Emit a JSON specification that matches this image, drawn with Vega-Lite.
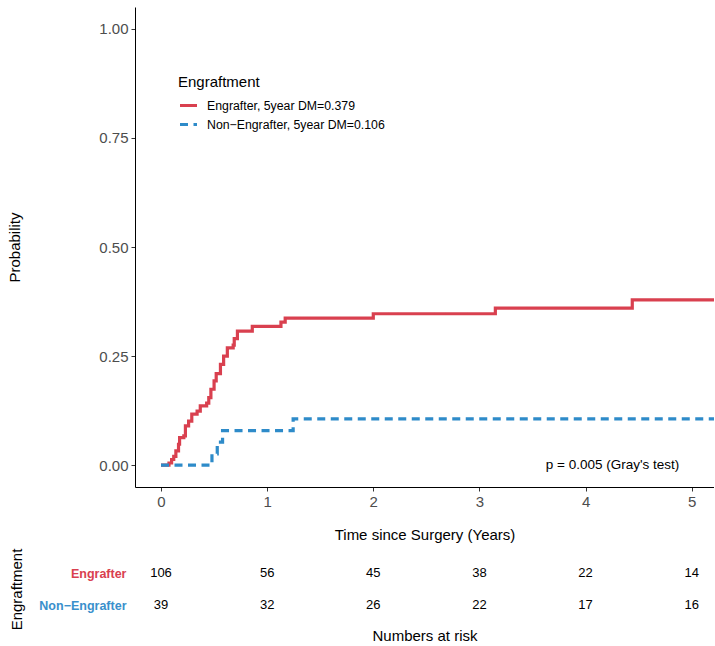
{
  "$schema": "https://vega.github.io/schema/vega-lite/v6.json",
  "padding": {"left": 7, "top": 7, "right": 0, "bottom": 0},
  "background": "white",
  "spacing": 6,
  "config": {
    "font": "Liberation Sans",
    "view": {"stroke": null},
    "axis": {"grid": false, "labelFont": "Liberation Sans", "titleFont": "Liberation Sans", "titleFontWeight": "normal", "titleColor": "black"},
    "legend": {"labelFont": "Liberation Sans", "titleFont": "Liberation Sans"}
  },
  "datasets": {
    "curves": [
      {"group": "Engrafter, 5year DM=0.379", "time": 0, "prob": 0},
      {"group": "Engrafter, 5year DM=0.379", "time": 0.075, "prob": 0.005},
      {"group": "Engrafter, 5year DM=0.379", "time": 0.1, "prob": 0.013},
      {"group": "Engrafter, 5year DM=0.379", "time": 0.12, "prob": 0.02},
      {"group": "Engrafter, 5year DM=0.379", "time": 0.14, "prob": 0.033},
      {"group": "Engrafter, 5year DM=0.379", "time": 0.165, "prob": 0.048},
      {"group": "Engrafter, 5year DM=0.379", "time": 0.175, "prob": 0.063},
      {"group": "Engrafter, 5year DM=0.379", "time": 0.215, "prob": 0.067},
      {"group": "Engrafter, 5year DM=0.379", "time": 0.23, "prob": 0.09},
      {"group": "Engrafter, 5year DM=0.379", "time": 0.26, "prob": 0.101},
      {"group": "Engrafter, 5year DM=0.379", "time": 0.29, "prob": 0.117},
      {"group": "Engrafter, 5year DM=0.379", "time": 0.34, "prob": 0.124},
      {"group": "Engrafter, 5year DM=0.379", "time": 0.37, "prob": 0.136},
      {"group": "Engrafter, 5year DM=0.379", "time": 0.43, "prob": 0.142},
      {"group": "Engrafter, 5year DM=0.379", "time": 0.45, "prob": 0.155},
      {"group": "Engrafter, 5year DM=0.379", "time": 0.47, "prob": 0.174},
      {"group": "Engrafter, 5year DM=0.379", "time": 0.5, "prob": 0.193},
      {"group": "Engrafter, 5year DM=0.379", "time": 0.52, "prob": 0.21},
      {"group": "Engrafter, 5year DM=0.379", "time": 0.56, "prob": 0.231},
      {"group": "Engrafter, 5year DM=0.379", "time": 0.59, "prob": 0.25},
      {"group": "Engrafter, 5year DM=0.379", "time": 0.625, "prob": 0.269},
      {"group": "Engrafter, 5year DM=0.379", "time": 0.68, "prob": 0.275},
      {"group": "Engrafter, 5year DM=0.379", "time": 0.69, "prob": 0.29},
      {"group": "Engrafter, 5year DM=0.379", "time": 0.72, "prob": 0.307},
      {"group": "Engrafter, 5year DM=0.379", "time": 0.86, "prob": 0.318},
      {"group": "Engrafter, 5year DM=0.379", "time": 1.13, "prob": 0.328},
      {"group": "Engrafter, 5year DM=0.379", "time": 1.17, "prob": 0.337},
      {"group": "Engrafter, 5year DM=0.379", "time": 2.0, "prob": 0.347},
      {"group": "Engrafter, 5year DM=0.379", "time": 3.15, "prob": 0.36},
      {"group": "Engrafter, 5year DM=0.379", "time": 4.44, "prob": 0.379},
      {"group": "Engrafter, 5year DM=0.379", "time": 5.3, "prob": 0.379},
      {"group": "Non−Engrafter, 5year DM=0.106", "time": 0, "prob": 0},
      {"group": "Non−Engrafter, 5year DM=0.106", "time": 0.48, "prob": 0.026},
      {"group": "Non−Engrafter, 5year DM=0.106", "time": 0.53, "prob": 0.053},
      {"group": "Non−Engrafter, 5year DM=0.106", "time": 0.58, "prob": 0.079},
      {"group": "Non−Engrafter, 5year DM=0.106", "time": 1.245, "prob": 0.106},
      {"group": "Non−Engrafter, 5year DM=0.106", "time": 5.3, "prob": 0.106}
    ],
    "risk": [
      {"group": "Engrafter", "time": 0, "n": 106},
      {"group": "Engrafter", "time": 1, "n": 56},
      {"group": "Engrafter", "time": 2, "n": 45},
      {"group": "Engrafter", "time": 3, "n": 38},
      {"group": "Engrafter", "time": 4, "n": 22},
      {"group": "Engrafter", "time": 5, "n": 14},
      {"group": "Non−Engrafter", "time": 0, "n": 39},
      {"group": "Non−Engrafter", "time": 1, "n": 32},
      {"group": "Non−Engrafter", "time": 2, "n": 26},
      {"group": "Non−Engrafter", "time": 3, "n": 22},
      {"group": "Non−Engrafter", "time": 4, "n": 17},
      {"group": "Non−Engrafter", "time": 5, "n": 16}
    ]
  },
  "vconcat": [
    {
      "width": 579,
      "height": 480,
      "layer": [
        {
          "data": {"name": "curves"},
          "mark": {"type": "line", "interpolate": "step-after", "strokeWidth": 3.2, "clip": true, "strokeCap": "butt"},
          "encoding": {
            "x": {
              "field": "time", "type": "quantitative",
              "scale": {"domain": [-0.245, 5.21], "nice": false, "zero": false},
              "axis": {"values": [0, 1, 2, 3, 4, 5], "format": "d", "title": "Time since Surgery (Years)", "labelFontSize": 15, "labelColor": "#4D4D4D", "titleFontSize": 15, "tickSize": 4, "tickColor": "#333333", "domainColor": "black", "domainWidth": 1, "labelPadding": 3, "titlePadding": 18, "labelFlush": false}
            },
            "y": {
              "field": "prob", "type": "quantitative",
              "scale": {"domain": [-0.05, 1.05], "nice": false, "zero": false},
              "axis": {"values": [0, 0.25, 0.5, 0.75, 1], "format": ".2f", "title": "Probability", "labelFontSize": 15, "labelColor": "#4D4D4D", "titleFontSize": 15, "tickSize": 4, "tickColor": "#333333", "domainColor": "black", "domainWidth": 1, "labelPadding": 3, "titlePadding": 76, "labelFlush": false}
            },
            "color": {
              "field": "group", "type": "nominal",
              "scale": {"domain": ["Engrafter, 5year DM=0.379", "Non−Engrafter, 5year DM=0.106"], "range": ["#D9404F", "#2E8BC9"]},
              "legend": {"title": "Engraftment", "orient": "none", "legendX": 43, "legendY": 68, "titleFontSize": 15, "titleFontWeight": "normal", "titleColor": "black", "titlePadding": 5, "labelFontSize": 12.3, "labelLimit": 0, "labelColor": "black", "symbolType": "stroke", "symbolStrokeWidth": 3.2, "symbolSize": 289, "rowPadding": 2, "labelOffset": 8}
            },
            "strokeDash": {
              "field": "group", "type": "nominal",
              "scale": {"domain": ["Engrafter, 5year DM=0.379", "Non−Engrafter, 5year DM=0.106"], "range": [[1, 0], [8, 5.5]]},
              "legend": {"title": "Engraftment", "orient": "none", "legendX": 43, "legendY": 68, "titleFontSize": 15, "titleFontWeight": "normal", "titleColor": "black", "titlePadding": 5, "labelFontSize": 12.3, "labelLimit": 0, "labelColor": "black", "symbolType": "stroke", "symbolStrokeWidth": 3.2, "symbolSize": 289, "rowPadding": 2, "labelOffset": 8}
            }
          }
        },
        {
          "data": {"values": [{}]},
          "mark": {"type": "text", "align": "left", "baseline": "middle", "fontSize": 13.5, "color": "black"},
          "encoding": {
            "x": {"datum": 3.625, "type": "quantitative"},
            "y": {"datum": 0, "type": "quantitative"},
            "text": {"value": "p = 0.005 (Gray's test)"}
          }
        }
      ]
    },
    {
      "width": 579,
      "height": 64,
      "data": {"name": "risk"},
      "mark": {"type": "text", "fontSize": 13, "color": "black", "baseline": "middle"},
      "encoding": {
        "x": {
          "field": "time", "type": "quantitative",
          "scale": {"domain": [-0.245, 5.21], "nice": false, "zero": false},
          "axis": {"labels": false, "ticks": false, "domain": false, "title": "Numbers at risk", "titleFontSize": 15, "titlePadding": 7}
        },
        "y": {
          "field": "group", "type": "nominal",
          "scale": {"type": "point", "domain": ["Engrafter", "Non−Engrafter"], "padding": 0.5},
          "axis": {"title": "Engraftment", "titleFontSize": 15, "labelFontSize": 12.5, "labelFontWeight": "bold", "labelColor": {"condition": {"test": "datum.value === 'Engrafter'", "value": "#D9404F"}, "value": "#3A90CC"}, "ticks": false, "domain": false, "labelPadding": 9, "titlePadding": 14}
        },
        "text": {"field": "n", "type": "quantitative"}
      }
    }
  ]
}
